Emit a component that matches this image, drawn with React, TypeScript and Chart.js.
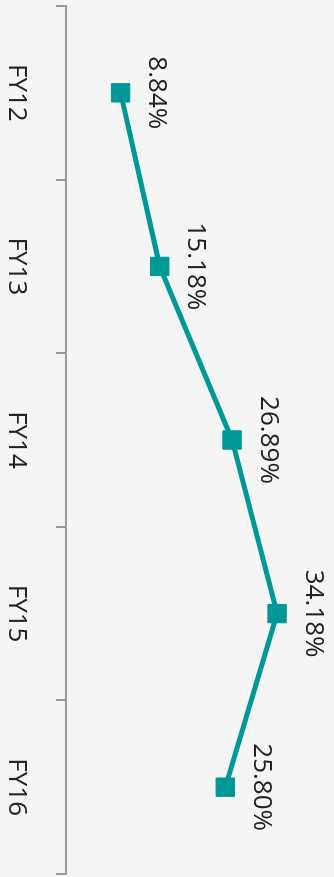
import React, { useEffect, useRef } from "react";
import { Chart, registerables } from "chart.js";

Chart.register(...registerables);

const categories = ["FY12", "FY13", "FY14", "FY15", "FY16"];
const values = [8.84, 15.18, 26.89, 34.18, 25.8];
const valueLabels = ["8.84%", "15.18%", "26.89%", "34.18%", "25.80%"];

const W = 877;
const H = 334;
const FONT = '"Open Sans", "Noto Sans", sans-serif';
const TEAL = "#009896";

export default function App() {
  const ref = useRef<HTMLCanvasElement>(null);

  useEffect(() => {
    if (!ref.current) return;
    const labelPlugin = {
      id: "valueLabels",
      afterDatasetsDraw(chart: any) {
        const ctx = chart.ctx;
        const meta = chart.getDatasetMeta(0);
        ctx.save();
        ctx.font = `26px ${FONT}`;
        ctx.fillStyle = "#222";
        ctx.textAlign = "center";
        ctx.textBaseline = "middle";
        meta.data.forEach((pt: any, i: number) => {
          ctx.fillText(valueLabels[i], pt.x, pt.y - 36);
        });
        ctx.restore();
      },
    };
    const chart = new Chart(ref.current, {
      type: "line",
      data: {
        labels: categories,
        datasets: [
          {
            data: values,
            borderColor: TEAL,
            backgroundColor: TEAL,
            borderWidth: 5,
            pointStyle: "rect",
            pointRadius: 13,
            pointHoverRadius: 13,
            pointBorderWidth: 1,
            pointBackgroundColor: TEAL,
            pointBorderColor: TEAL,
            tension: 0,
            fill: false,
            clip: false,
          },
        ],
      },
      options: {
        responsive: false,
        animation: false,
        events: [],
        layout: { autoPadding: false, padding: { left: 6, right: 3, top: 21, bottom: 0 } },
        plugins: { legend: { display: false }, tooltip: { enabled: false } },
        scales: {
          x: {
            offset: true,
            grid: {
              offset: true,
              drawOnChartArea: false,
              drawTicks: true,
              tickLength: 10,
              color: "#999",
              lineWidth: 2,
            },
            border: { display: true, color: "#999", width: 2 },
            ticks: {
              font: { size: 26, family: FONT },
              color: "#222",
              padding: 24,
              maxRotation: 0,
            },
            afterFit(scale: any) {
              scale.height = 66;
              scale.paddingLeft = 0;
              scale.paddingRight = 0;
            },
          },
          y: { display: false, min: 0, max: 40 },
        },
      },
      plugins: [labelPlugin],
    } as any);
    return () => chart.destroy();
  }, []);

  return (
    <div style={{ position: "fixed", left: 0, top: 0, width: 334, height: 877, background: "#f5f5f5", overflow: "hidden" }}>
      <div
        style={{
          position: "absolute",
          left: 0,
          top: 0,
          width: W,
          height: H,
          transformOrigin: "0 0",
          transform: "translateX(334px) rotate(90deg)",
        }}
      >
        <canvas ref={ref} width={W} height={H} style={{ display: "block", width: W, height: H }} />
      </div>
    </div>
  );
}
